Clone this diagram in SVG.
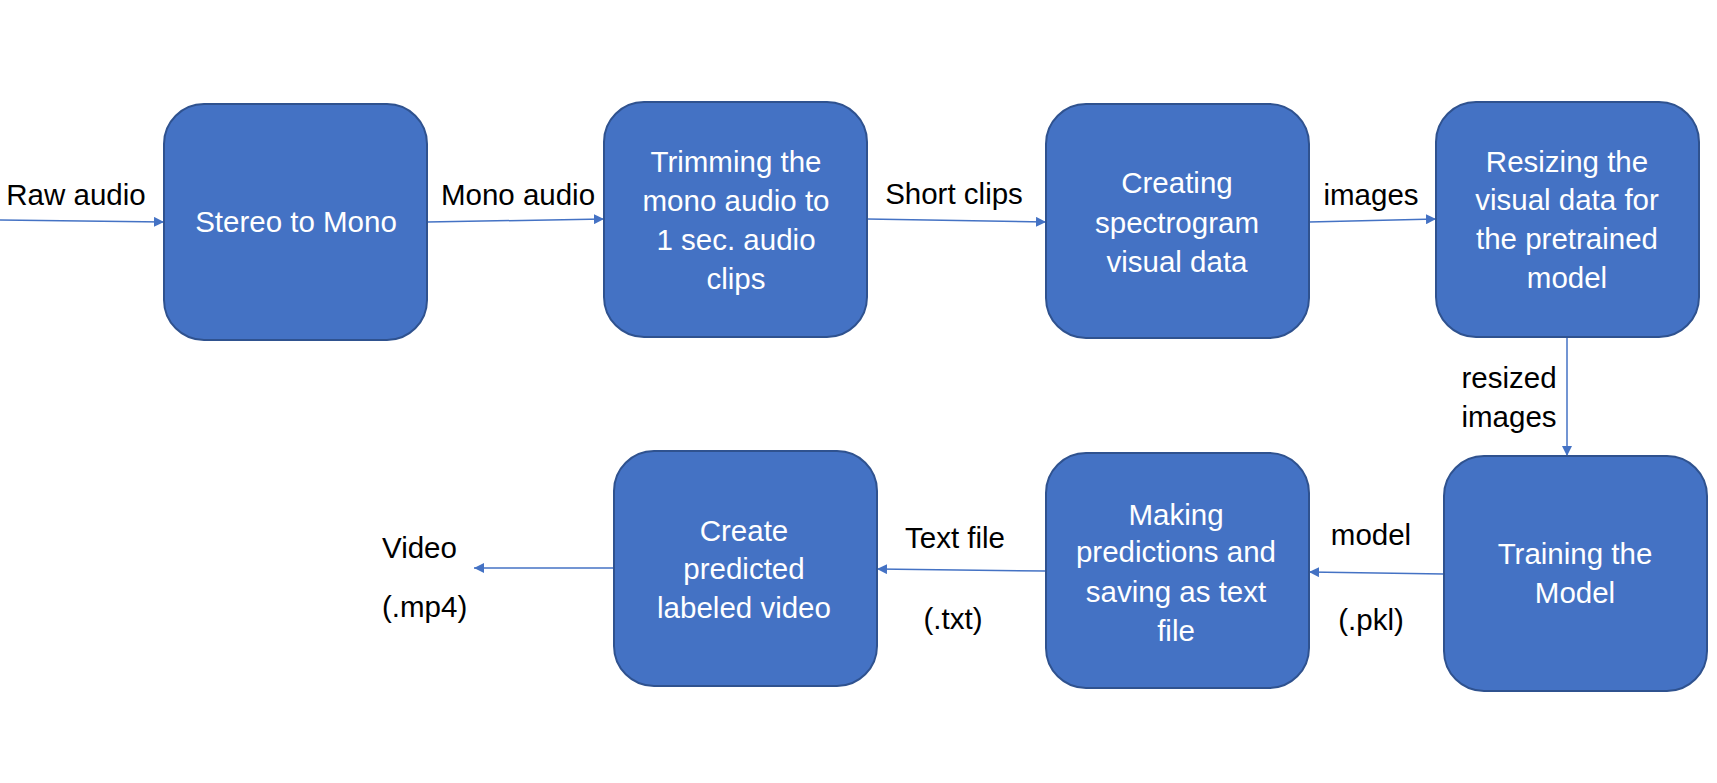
<svg xmlns="http://www.w3.org/2000/svg" width="1717" height="783" viewBox="0 0 1717 783">
<style>
.box{fill:#4472C4;stroke:#2F528F;stroke-width:2}
.nt{font-family:"Liberation Sans",Arial,sans-serif;font-size:29.5px;fill:#ffffff;text-anchor:middle}
.lb{font-family:"Liberation Sans",Arial,sans-serif;font-size:29.5px;fill:#000000;text-anchor:middle}
.lbl{font-family:"Liberation Sans",Arial,sans-serif;font-size:29.5px;fill:#000000;text-anchor:start}
.cn{stroke:#4472C4;stroke-width:1.5;fill:none;marker-end:url(#ah)}
</style>
<defs>
<marker id="ah" markerUnits="userSpaceOnUse" markerWidth="11" markerHeight="10" refX="10" refY="5" orient="auto">
<path d="M0,0 L10,5 L0,10 z" fill="#4472C4"/>
</marker>
</defs>
<rect width="1717" height="783" fill="#ffffff"/>
<g id="connectors">
<line class="cn" x1="0" y1="220" x2="164" y2="222"/>
<line class="cn" x1="427" y1="222" x2="604" y2="219"/>
<line class="cn" x1="867" y1="219" x2="1046" y2="222"/>
<line class="cn" x1="1309" y1="222" x2="1436" y2="219"/>
<line class="cn" x1="1567" y1="337" x2="1567" y2="456"/>
<line class="cn" x1="1444" y1="574" x2="1309" y2="572"/>
<line class="cn" x1="1046" y1="571" x2="877" y2="569"/>
<line class="cn" x1="614" y1="568" x2="474" y2="568"/>
<text class="lb" x="76" y="205">Raw audio</text>
<text class="lb" x="518" y="205">Mono audio</text>
<text class="lb" x="954" y="204">Short clips</text>
<text class="lb" x="1371" y="205">images</text>
<text class="lb" x="1509" y="388">resized</text>
<text class="lb" x="1509" y="427">images</text>
<text class="lb" x="1371" y="545">model</text>
<text class="lb" x="1371" y="630">(.pkl)</text>
<text class="lb" x="955" y="548">Text file</text>
<text class="lb" x="953" y="629">(.txt)</text>
<text class="lbl" x="382" y="558">Video</text>
<text class="lbl" x="382" y="617">(.mp4)</text>
</g>
<g id="n1">
<rect class="box" x="164" y="104" width="263" height="236" rx="40"/>
<text class="nt" x="296" y="232">Stereo to Mono</text>
</g>
<g id="n2">
<rect class="box" x="604" y="102" width="263" height="235" rx="40"/>
<text class="nt" x="736" y="172">Trimming the</text>
<text class="nt" x="736" y="211">mono audio to</text>
<text class="nt" x="736" y="250">1 sec. audio</text>
<text class="nt" x="736" y="289">clips</text>
</g>
<g id="n3">
<rect class="box" x="1046" y="104" width="263" height="234" rx="40"/>
<text class="nt" x="1177" y="193">Creating</text>
<text class="nt" x="1177" y="233">spectrogram</text>
<text class="nt" x="1177" y="272">visual data</text>
</g>
<g id="n4">
<rect class="box" x="1436" y="102" width="263" height="235" rx="40"/>
<text class="nt" x="1567" y="172">Resizing the</text>
<text class="nt" x="1567" y="210">visual data for</text>
<text class="nt" x="1567" y="249">the pretrained</text>
<text class="nt" x="1567" y="288">model</text>
</g>
<g id="n5">
<rect class="box" x="1444" y="456" width="263" height="235" rx="40"/>
<text class="nt" x="1575" y="564">Training the</text>
<text class="nt" x="1575" y="603">Model</text>
</g>
<g id="n6">
<rect class="box" x="1046" y="453" width="263" height="235" rx="40"/>
<text class="nt" x="1176" y="525">Making</text>
<text class="nt" x="1176" y="562">predictions and</text>
<text class="nt" x="1176" y="602">saving as text</text>
<text class="nt" x="1176" y="641">file</text>
</g>
<g id="n7">
<rect class="box" x="614" y="451" width="263" height="235" rx="40"/>
<text class="nt" x="744" y="541">Create</text>
<text class="nt" x="744" y="579">predicted</text>
<text class="nt" x="744" y="618">labeled video</text>
</g>
</svg>
